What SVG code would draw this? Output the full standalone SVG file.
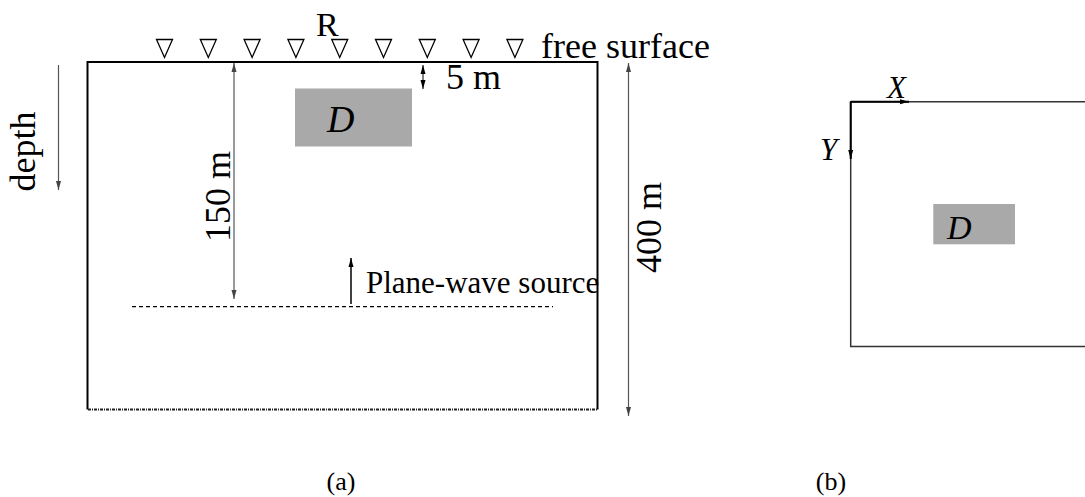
<svg xmlns="http://www.w3.org/2000/svg" width="1085" height="497" viewBox="0 0 1085 497" font-family="'Liberation Serif', 'Times New Roman', 'DejaVu Serif', serif">
<style>
text{font-family:'Liberation Serif','Times New Roman','DejaVu Serif',serif;fill:#000}
.lbl{font-size:36px}
.dim{stroke:#555;stroke-width:1.2;fill:none}
.rx{fill:none;stroke:#000;stroke-width:1.3}
.box{fill:#a9a9a9}
.cal{font-style:italic}
</style>
<defs>
<marker id="ah" markerUnits="userSpaceOnUse" markerWidth="10" markerHeight="6" refX="9" refY="3" orient="auto-start-reverse">
<path d="M0,0.5 L9,3 L0,5.5 z" fill="#444"/>
</marker>
<marker id="ahk" markerUnits="userSpaceOnUse" markerWidth="10" markerHeight="6" refX="9" refY="3" orient="auto-start-reverse">
<path d="M0,0.5 L9,3 L0,5.5 z" fill="#000"/>
</marker>
</defs>

<g id="panel-a">
<g id="model">
<path d="M87.5,409.5 L87.5,62 L597.5,62 L597.5,409.5" fill="none" stroke="#000" stroke-width="2"/>
<line x1="88" y1="409.5" x2="597" y2="409.5" stroke="#222" stroke-width="1.8" stroke-dasharray="3 1 1 1"/>
</g>
<g id="receivers">
<polygon class="rx" points="156.5,39.5 172.5,39.5 164.5,57.5"/>
<polygon class="rx" points="200.3,39.5 216.3,39.5 208.3,57.5"/>
<polygon class="rx" points="244.1,39.5 260.1,39.5 252.1,57.5"/>
<polygon class="rx" points="287.9,39.5 303.9,39.5 295.9,57.5"/>
<polygon class="rx" points="331.7,39.5 347.7,39.5 339.7,57.5"/>
<polygon class="rx" points="375.5,39.5 391.5,39.5 383.5,57.5"/>
<polygon class="rx" points="419.3,39.5 435.3,39.5 427.3,57.5"/>
<polygon class="rx" points="463.1,39.5 479.1,39.5 471.1,57.5"/>
<polygon class="rx" points="506.9,39.5 522.9,39.5 514.9,57.5"/>
<text x="316" y="35.5" font-size="34">R</text>
<text class="lbl" x="541" y="58" font-size="37">free surface</text>
</g>
<g id="target-a">
<rect class="box" x="295" y="88.5" width="117" height="58"/>
<text class="cal" x="327" y="132" font-size="38">D</text>
</g>
<g id="source">
<line x1="132" y1="306.7" x2="553" y2="306.7" stroke="#000" stroke-width="1.3" stroke-dasharray="4 3"/>
<line x1="351" y1="304" x2="351" y2="258" stroke="#000" stroke-width="1.5" marker-end="url(#ahk)"/>
<text x="366" y="292.5" font-size="31">Plane-wave source</text>
</g>
<g id="dimensions">
<line class="dim" x1="58.5" y1="65" x2="58.5" y2="190" marker-end="url(#ah)"/>
<text class="lbl" transform="translate(35,151.5) rotate(-90)" text-anchor="middle">depth</text>
<line class="dim" x1="234" y1="63" x2="234" y2="299" marker-start="url(#ah)" marker-end="url(#ah)"/>
<text class="lbl" transform="translate(230,196.5) rotate(-90)" text-anchor="middle" font-size="37">150 m</text>
<line class="dim" x1="628.5" y1="63" x2="628.5" y2="416" marker-start="url(#ah)" marker-end="url(#ah)"/>
<text class="lbl" transform="translate(661,227.5) rotate(-90)" text-anchor="middle" font-size="37">400 m</text>
<line x1="423" y1="65" x2="423" y2="89" stroke="#000" stroke-width="1" marker-start="url(#ahk)" marker-end="url(#ahk)"/>
<text class="lbl" x="446" y="89">5 m</text>
</g>
<text id="caption-a" x="341" y="490" font-size="26" text-anchor="middle">(a)</text>
</g>

<g id="panel-b">
<g id="grid-b">
<path d="M1090,346.5 L850.7,346.5 L850.7,101.7 L1090,101.7" fill="none" stroke="#333" stroke-width="1.5"/>
</g>
<g id="axes">
<line x1="850.7" y1="101.7" x2="909" y2="101.7" stroke="#000" stroke-width="2" marker-end="url(#ahk)"/>
<line x1="850.7" y1="101.7" x2="850.7" y2="159" stroke="#000" stroke-width="2" marker-end="url(#ahk)"/>
<text class="cal" x="887" y="98" font-size="31">X</text>
<text class="cal" x="820" y="160" font-size="31">Y</text>
</g>
<g id="target-b">
<rect class="box" x="933.3" y="204" width="81.7" height="40.3"/>
<text class="cal" x="947" y="239" font-size="34">D</text>
</g>
<text id="caption-b" x="831" y="490" font-size="26" text-anchor="middle">(b)</text>
</g>
</svg>
